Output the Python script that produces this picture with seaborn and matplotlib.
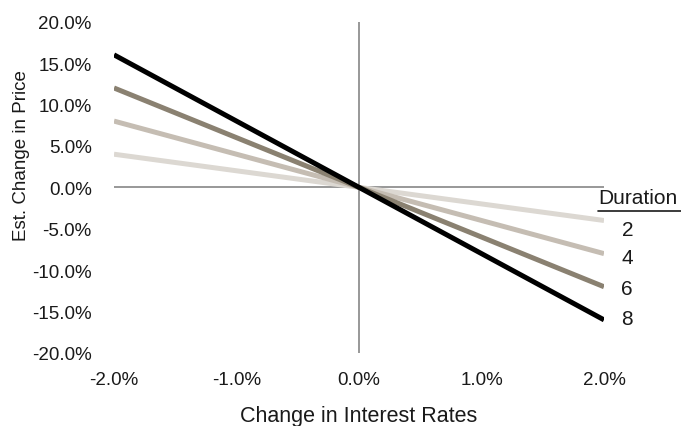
import matplotlib
matplotlib.use("Agg")
import matplotlib.pyplot as plt
import matplotlib.ticker as mticker
import pandas as pd
import seaborn as sns

# Change in interest rates (decimal) and the estimated price change for each duration
rate_changes = [-0.02, 0.0, 0.02]
durations = [2, 4, 6, 8]
price_change_d2 = [0.04, 0.0, -0.04]
price_change_d4 = [0.08, 0.0, -0.08]
price_change_d6 = [0.12, 0.0, -0.12]
price_change_d8 = [0.16, 0.0, -0.16]
x_ticks = [-0.02, -0.01, 0.0, 0.01, 0.02]
y_ticks = [-0.20, -0.15, -0.10, -0.05, 0.0, 0.05, 0.10, 0.15, 0.20]

line_colors = {2: "#dcd8d2", 4: "#c5bdb3", 6: "#8a8171", 8: "#000000"}

series = {2: price_change_d2, 4: price_change_d4, 6: price_change_d6, 8: price_change_d8}
df = pd.DataFrame(
    [(r, p, d) for d in durations for r, p in zip(rate_changes, series[d])],
    columns=["rate", "price", "duration"],
)

sns.set_theme(style="white")
plt.rcParams["font.family"] = ["Liberation Sans", "DejaVu Sans"]

fig = plt.figure(figsize=(6.81, 4.27), dpi=100)
ax = fig.add_axes([114 / 681, 1 - 354 / 427, 490 / 681, (354 - 22.7) / 427])

# zero reference lines
ax.axhline(0, color="#868686", lw=1.2, zorder=1)
ax.axvline(0, color="#868686", lw=1.2, zorder=1)

sns.lineplot(data=df, x="rate", y="price", hue="duration", palette=line_colors,
             hue_order=durations, linewidth=3.6, legend=False, ax=ax, zorder=3)
for ln in ax.get_lines()[2:]:
    ln.set_solid_capstyle("butt")

ax.set_xlim(-0.02, 0.02)
ax.set_ylim(-0.20, 0.20)
ax.set_xticks(x_ticks)
ax.set_yticks(y_ticks)
ax.xaxis.set_major_formatter(mticker.FuncFormatter(lambda v, _: f"{v * 100:.1f}%"))
ax.yaxis.set_major_formatter(mticker.FuncFormatter(lambda v, _: f"{v * 100:.1f}%"))
ax.tick_params(axis="both", length=0, labelsize=13.5, colors="#1a1a1a")
ax.tick_params(axis="y", pad=16)
ax.tick_params(axis="x", pad=13)
for s in ax.spines.values():
    s.set_visible(False)
ax.grid(False)

ax.set_xlabel("Change in Interest Rates", fontsize=15.5, color="#1a1a1a", labelpad=12)
ax.set_ylabel("Est. Change in Price", fontsize=13.5, color="#1a1a1a")
ax.yaxis.set_label_coords(-0.171, 0.60)

# duration labels at the right edge
ax.text(0.02 - 0.0005, -0.012, "Duration", fontsize=15, color="#1a1a1a",
        ha="left", va="center", clip_on=False, zorder=5,
        bbox=dict(facecolor="white", edgecolor="none", pad=0))
ax.plot([0.0195, 0.0263], [-0.028, -0.028], color="#1a1a1a", lw=1.2,
        clip_on=False, zorder=5)
label_y = [-0.051, -0.085, -0.122, -0.158]
for d, yy in zip(durations, label_y):
    ax.text(0.0219, yy, str(d), fontsize=15, color="#1a1a1a",
            ha="center", va="center", clip_on=False)

fig.savefig("out.png", dpi=100)
